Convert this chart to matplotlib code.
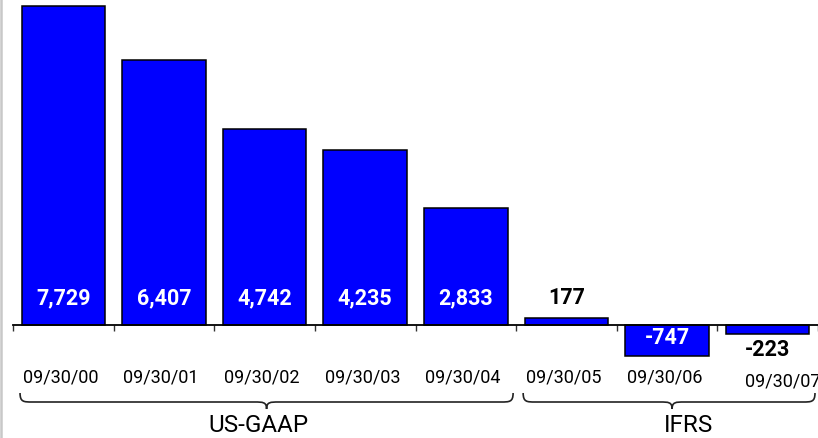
import matplotlib
matplotlib.use("Agg")
import matplotlib.pyplot as plt
from matplotlib.path import Path
from matplotlib.patches import PathPatch
from matplotlib.lines import Line2D
import matplotlib.transforms as mtransforms
import numpy as np

# ---- data ----
categories = ["09/30/00", "09/30/01", "09/30/02", "09/30/03", "09/30/04",
              "09/30/05", "09/30/06", "09/30/07"]
values = [7729, 6407, 4742, 4235, 2833, 177, -747, -223]
groups = ["US-GAAP", "IFRS"]
group_spans = [(0, 4), (5, 7)]

W, H, DPI = 818, 439, 100
fig = plt.figure(figsize=(W / DPI, H / DPI), dpi=DPI)
fig.patch.set_facecolor("white")

# axes spans full height; baseline at y=326 px from top
left_px, right_px = 13, 818
base_px_from_bottom = H - 326
scale = 0.0413  # px per unit
ymax = 326 / scale
ymin = -base_px_from_bottom / scale
ax = fig.add_axes([left_px / W, 0, (right_px - left_px) / W, 1])
ax.set_xlim(-0.5, len(categories) - 0.5)
ax.set_ylim(ymin, ymax)
ax.patch.set_alpha(0)

x = np.arange(len(categories))
ax.bar(x, values, width=0.83, color="#0000FF", edgecolor="black",
       linewidth=1.1, zorder=2)

# baseline axis
for s in ["top", "right", "left"]:
    ax.spines[s].set_visible(False)
ax.spines["bottom"].set_position(("data", 0))
ax.spines["bottom"].set_linewidth(1.3)
ax.spines["bottom"].set_zorder(3)
ax.set_yticks([])
ax.set_xticks(np.arange(-0.5, len(categories)), minor=False)
ax.set_xticklabels([])
ax.tick_params(axis="x", direction="out", length=4, width=1.0, color="#333333")

val_font = ["Roboto", "DejaVu Sans"]
cat_font = ["Roboto", "DejaVu Sans"]
grp_font = ["Roboto", "DejaVu Sans"]

# value labels
for xi, v in zip(x, values):
    big = abs(v) > 500
    color = "white" if big else "black"
    if v > 0:
        dy = 20
    else:
        dy = -9 if big else -17
    ax.annotate(f"{v:,}", (xi, 0), xytext=(0, dy), textcoords="offset points",
                ha="center", va="center", fontsize=15.5, fontweight="bold",
                color=color, family=val_font, zorder=4)

# category labels
for i, (xi, c) in enumerate(zip(x, categories)):
    dx, dy = (-2, -37)
    if i == len(categories) - 1:
        dx, dy = (11, -40)
    ax.annotate(c, (xi, 0), xytext=(dx, dy), textcoords="offset points",
                ha="center", va="center", fontsize=13, color="black",
                family=cat_font, annotation_clip=False)

# braces: x in data, y in figure pixels
trans = mtransforms.blended_transform_factory(ax.transData,
                                              mtransforms.IdentityTransform())


def brace(x0, x1, xtip, ytop, ymid, ybot, hook):
    verts = [(x0, ytop),
             (x0, ymid), (x0 + hook * 0.3, ymid), (x0 + hook, ymid),
             (xtip - hook, ymid),
             (xtip - hook * 0.3, ymid), (xtip, ymid), (xtip, ybot),
             (xtip, ymid), (xtip + hook * 0.3, ymid), (xtip + hook, ymid),
             (x1 - hook, ymid),
             (x1 - hook * 0.3, ymid), (x1, ymid), (x1, ytop)]
    codes = [Path.MOVETO,
             Path.CURVE4, Path.CURVE4, Path.CURVE4,
             Path.LINETO,
             Path.CURVE4, Path.CURVE4, Path.CURVE4,
             Path.CURVE4, Path.CURVE4, Path.CURVE4,
             Path.LINETO,
             Path.CURVE4, Path.CURVE4, Path.CURVE4]
    p = PathPatch(Path(verts, codes), facecolor="none", edgecolor="#222222",
                  linewidth=1.2, transform=trans, clip_on=False)
    ax.add_patch(p)


ytop = H - 394
ymid = H - 403
ybot = H - 410
group_label_dx = [-0.08, 0.16]
for (a, b), name, gdx in zip(group_spans, groups, group_label_dx):
    x0 = a - 0.5 + 0.07
    x1 = b + 0.5 - 0.03
    xtip = (a + b) / 2 + (0.02 if name == "US-GAAP" else 0.05)
    brace(x0, x1, xtip, ytop, ymid, ybot, 0.12)
    ax.text(xtip + gdx, 13 / H, name,
            transform=mtransforms.blended_transform_factory(ax.transData, fig.transFigure),
            ha="center", va="center", fontsize=17.5, family=grp_font,
            color="black")

# gray frame line at left edge
fig.add_artist(Line2D([1.2 / W, 1.2 / W], [0, 1], transform=fig.transFigure,
                      color="#c8c8c8", linewidth=1.8))

fig.savefig("out.png", dpi=DPI, facecolor="white")
